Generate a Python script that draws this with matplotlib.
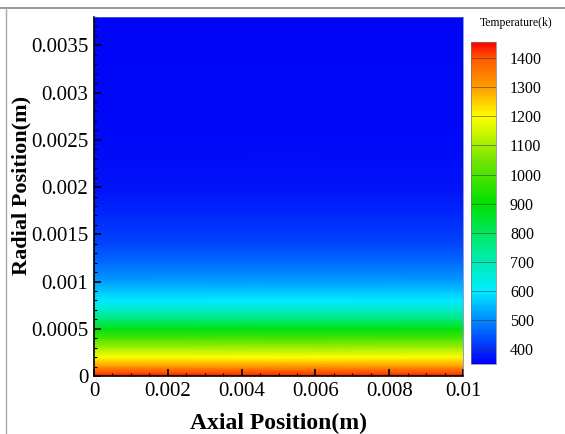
import numpy as np
import matplotlib
matplotlib.use('Agg')
import matplotlib.pyplot as plt
import matplotlib.colors as mcolors
from matplotlib.lines import Line2D
from matplotlib.ticker import FixedLocator, MultipleLocator

# radial temperature profile (uniform along x)
radius = [0, 0.00003, 0.0001, 0.0002, 0.0003, 0.0004, 0.0005, 0.0006,
          0.0007, 0.0008, 0.0009, 0.001, 0.0012, 0.0014, 0.0017, 0.002,
          0.0025, 0.0038]
temperature = [1450, 1410, 1310, 1200, 1100, 990, 880, 770, 670, 600,
               560, 520, 470, 430, 395, 375, 360, 355]
axial = [0, 0.01]

x_ticks = [0, 0.002, 0.004, 0.006, 0.008, 0.01]
x_labels = ['0', '0.002', '0.004', '0.006', '0.008', '0.01']
y_ticks = [0, 0.0005, 0.001, 0.0015, 0.002, 0.0025, 0.003, 0.0035]
y_labels = ['0', '0.0005', '0.001', '0.0015', '0.002', '0.0025', '0.003', '0.0035']
cb_ticks = [400, 500, 600, 700, 800, 900, 1000, 1100, 1200, 1300, 1400]
t_min, t_max = 350, 1455

# tecplot-like rainbow, anchored at temperatures
cmap_nodes = [(350, (0.0, 0.0, 0.97)), (450, (0.0, 0.35, 1.0)),
              (600, (0.0, 0.93, 1.0)), (750, (0.0, 0.92, 0.55)),
              (900, (0.0, 0.88, 0.0)), (1050, (0.45, 0.9, 0.0)),
              (1200, (1.0, 1.0, 0.0)), (1300, (1.0, 0.62, 0.0)),
              (1400, (1.0, 0.35, 0.0)), (1455, (1.0, 0.0, 0.0))]
cmap = mcolors.LinearSegmentedColormap.from_list(
    'tec', [((t - t_min) / (t_max - t_min), c) for t, c in cmap_nodes])
norm = mcolors.Normalize(vmin=t_min, vmax=t_max)

plt.rcParams['font.family'] = ['Liberation Serif', 'DejaVu Serif']

fig = plt.figure(figsize=(5.65, 4.34), dpi=100)
ax = fig.add_axes([0.1664, 0.1336, 0.6531, 0.8272])

Z = np.column_stack([temperature, temperature])
ax.pcolormesh(axial, radius, Z, cmap=cmap, norm=norm, shading='gouraud')
ax.set_xlim(0, 0.01)
ax.set_ylim(0, 0.0038)

ax.xaxis.set_major_locator(FixedLocator(x_ticks))
ax.set_xticklabels(x_labels)
ax.yaxis.set_major_locator(FixedLocator(y_ticks))
ax.set_yticklabels(y_labels)
ax.xaxis.set_minor_locator(MultipleLocator(0.0005))
ax.yaxis.set_minor_locator(MultipleLocator(0.0001))
ax.tick_params(which='major', direction='in', length=5, width=1.2,
               labelsize=15, color='black')
ax.tick_params(which='minor', direction='in', length=2.5, width=0.8)
ax.tick_params(axis='x', pad=4)
ax.tick_params(axis='y', pad=4)
for side in ['top', 'right']:
    ax.spines[side].set_linewidth(0.5)
    ax.spines[side].set_color('#6070c0')
for side in ['bottom', 'left']:
    ax.spines[side].set_linewidth(1.2)

ax.set_xlabel('Axial Position(m)', fontsize=17, fontweight='bold', labelpad=9)
ax.set_ylabel('Radial Position(m)', fontsize=16, fontweight='bold')
ax.yaxis.set_label_coords(-0.17, 0.53)

# colorbar
cax = fig.add_axes([0.8336, 0.1613, 0.0443, 0.7419])
sm = matplotlib.cm.ScalarMappable(cmap=cmap, norm=norm)
cb = fig.colorbar(sm, cax=cax)
cb.set_ticks(cb_ticks)
cb.ax.tick_params(length=0, labelsize=11.5, pad=10)
cb.outline.set_linewidth(0.5)
cb.outline.set_edgecolor('#777777')
for t in cb_ticks:
    cax.axhline(t, color='#333333', linewidth=0.6, alpha=0.6)
fig.text(0.913, 0.948, 'Temperature(k)', fontsize=8.5, ha='center', va='center')

# screenshot frame
fig.add_artist(Line2D([0, 1], [0.981, 0.981], color='#888888', linewidth=1.2))
fig.add_artist(Line2D([0.011, 0.011], [0, 0.981], color='#aaaaaa', linewidth=1.0))

fig.savefig('out.png', dpi=100)
